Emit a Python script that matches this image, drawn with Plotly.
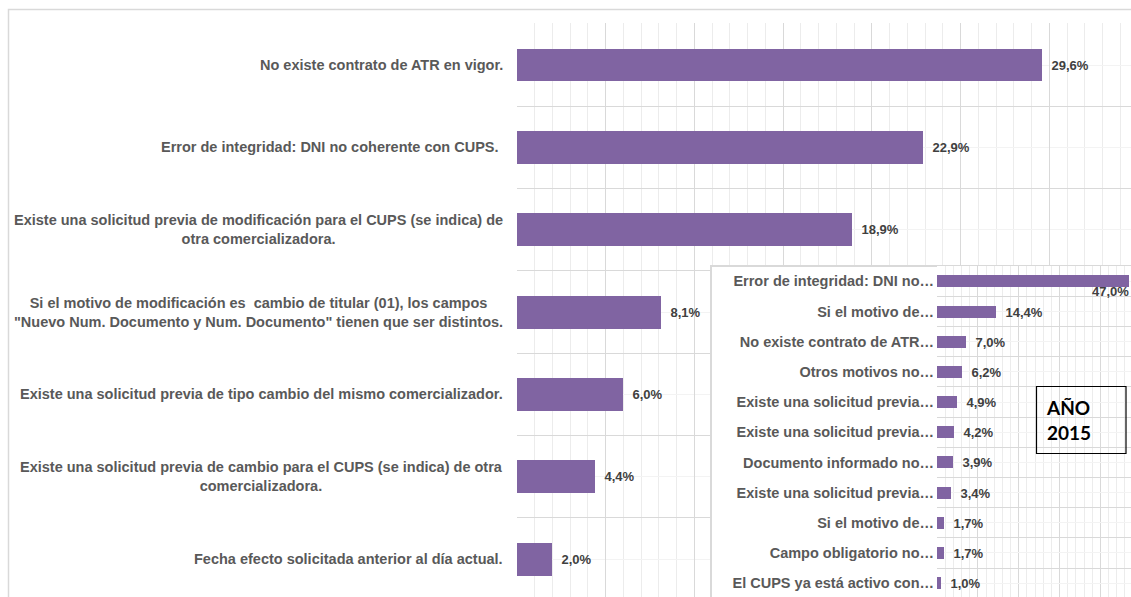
import plotly.graph_objects as go

W, H = 1131, 597

# motivos de rechazo (gráfico principal)
motivos = [
    "No existe contrato de ATR en vigor.",
    "Error de integridad: DNI no coherente con CUPS. ",
    "Existe una solicitud previa de modificación para el CUPS (se indica) de<br>otra comercializadora.",
    "Si el motivo de modificación es  cambio de titular (01), los campos<br>\"Nuevo Num. Documento y Num. Documento\" tienen que ser distintos.",
    "Existe una solicitud previa de tipo cambio del mismo comercializador.",
    "Existe una solicitud previa de cambio para el CUPS (se indica) de otra<br>comercializadora.",
    "Fecha efecto solicitada anterior al día actual.",
]
porcentajes = [29.6, 22.9, 18.9, 8.1, 6.0, 4.4, 2.0]

# recuadro año 2015
motivos_2015 = [
    "Error de integridad: DNI no…",
    "Si el motivo de…",
    "No existe contrato de ATR…",
    "Otros motivos no…",
    "Existe una solicitud previa…",
    "Existe una solicitud previa…",
    "Documento informado no…",
    "Existe una solicitud previa…",
    "Si el motivo de…",
    "Campo obligatorio no…",
    "El CUPS ya está activo con…",
]
porcentajes_2015 = [47.0, 14.4, 7.0, 6.2, 4.9, 4.2, 3.9, 3.4, 1.7, 1.7, 1.0]

titulo_recuadro = "AÑO<br>2015"

MORADO = "#8064A2"
FUENTE = "Liberation Sans, Arial, sans-serif"


def px(x):
    return x / W


def py(y):
    return 1 - y / H


def etiqueta(v):
    return "\u2002" + f"{v:.1f}".replace(".", ",") + "%"


pos = list(range(len(motivos)))
pos15 = list(range(len(motivos_2015)))

fig = go.Figure()

# gráfico principal
fig.add_trace(go.Bar(
    x=porcentajes, y=pos, orientation="h", width=0.4,
    marker=dict(color=MORADO, line=dict(width=0)),
    text=[etiqueta(v) for v in porcentajes],
    textposition="outside", constraintext="none", cliponaxis=False,
    textfont=dict(family=FUENTE, size=13, color="#404040", weight="bold"),
    xaxis="x", yaxis="y", hoverinfo="skip",
))

# fondo blanco del recuadro (subplot vacío)
fig.add_trace(go.Scatter(x=[], y=[], xaxis="x2", yaxis="y2", hoverinfo="skip"))

# recuadro 2015
textos15 = [""] + [etiqueta(v) for v in porcentajes_2015[1:]]
fig.add_trace(go.Bar(
    x=porcentajes_2015, y=pos15, orientation="h", width=0.4,
    marker=dict(color=MORADO, line=dict(width=0)),
    text=textos15,
    textposition="outside", constraintext="none", cliponaxis=False,
    textfont=dict(family=FUENTE, size=13, color="#404040", weight="bold"),
    xaxis="x3", yaxis="y3", hoverinfo="skip",
))

anotaciones = []
for i, m in zip(pos, motivos):
    anotaciones.append(dict(
        text=m, xref="paper", x=px(505), xanchor="right", align="center",
        yref="y", y=i, yanchor="middle", showarrow=False,
        font=dict(family=FUENTE, size=14.5, color="#595959", weight="bold"),
    ))

# la etiqueta del 47,0% queda debajo del final de la barra
anotaciones.append(dict(
    text=f"{porcentajes_2015[0]:.1f}".replace(".", ",") + "%",
    xref="x3", x=porcentajes_2015[0], xanchor="right", xshift=2,
    yref="y3", y=pos15[0], yanchor="middle", yshift=-10, showarrow=False,
    font=dict(family=FUENTE, size=13, color="#404040", weight="bold"),
))

anotaciones.append(dict(
    text=titulo_recuadro, xref="paper", x=px(1044), xanchor="left", align="left",
    yref="paper", y=py(420), yanchor="middle", showarrow=False,
    font=dict(family="Lato, Open Sans, sans-serif", size=19, color="#000000", weight="bold"),
))

formas = [
    # borde del área del gráfico
    dict(type="rect", xref="paper", yref="paper", layer="below",
         x0=px(8.5), x1=1.05, y0=-0.05, y1=py(9.5),
         line=dict(color="#d9d9d9", width=1.5), fillcolor="rgba(0,0,0,0)"),
    # caja AÑO 2015
    dict(type="rect", xref="paper", yref="paper", layer="above",
         x0=px(1036.5), x1=px(1126), y0=py(453.5), y1=py(386.5),
         line=dict(color="#000000", width=1.2), fillcolor="rgba(0,0,0,0)"),
]

fig.update_layout(
    width=W, height=H,
    margin=dict(l=0, r=0, t=0, b=0),
    paper_bgcolor="white", plot_bgcolor="white",
    showlegend=False, bargap=0,
    annotations=anotaciones, shapes=formas,
    xaxis=dict(domain=[px(517), 1], range=[0, 34.6], anchor="y",
               dtick=5, tick0=0, showgrid=True, gridcolor="#d9d9d9", gridwidth=1,
               minor=dict(dtick=1, tick0=0, showgrid=True, gridcolor="#ececec"),
               showticklabels=False, zeroline=False, showline=False, automargin=False),
    yaxis=dict(domain=[0, py(23)], range=[6.46, -0.51], anchor="x",
               tickmode="linear", tick0=0.5, dtick=1,
               showgrid=True, gridcolor="#d9d9d9",
               minor=dict(tickmode="array", tickvals=pos, showgrid=True, gridcolor="#f3f3f3"),
               showticklabels=False, zeroline=False, showline=False, automargin=False),
    xaxis2=dict(domain=[px(711.5), 1], range=[0, 1], anchor="y2", side="top",
                showline=True, linecolor="#d9d9d9", linewidth=1.5,
                showgrid=False, zeroline=False, showticklabels=False, automargin=False),
    yaxis2=dict(domain=[0, py(266.5)], range=[0, 1], anchor="x2", side="left",
                showline=True, linecolor="#d9d9d9", linewidth=1.5,
                showgrid=False, zeroline=False, showticklabels=False, automargin=False),
    xaxis3=dict(domain=[px(937), 1], range=[0, 47.5], anchor="y3",
                dtick=10, tick0=0, showgrid=True, gridcolor="#d9d9d9",
                minor=dict(dtick=2, tick0=0, showgrid=True, gridcolor="#ececec"),
                showticklabels=False, zeroline=False, showline=False, automargin=False),
    yaxis3=dict(domain=[0, py(266)], range=[10.46, -0.51], anchor="x3",
                tickmode="array", tickvals=pos15, ticktext=motivos_2015,
                ticks="", ticklabelstandoff=2,
                tickfont=dict(family=FUENTE, size=14.5, color="#595959", weight="bold"),
                showgrid=True, gridcolor="#f3f3f3",
                minor=dict(tickmode="linear", tick0=0.5, dtick=1, showgrid=True, gridcolor="#d9d9d9"),
                zeroline=False, showline=False, automargin=False),
)

fig.write_html("out.html", config={"displayModeBar": False},
               post_script="document.body.style.margin='0';document.body.style.overflow='hidden';")
